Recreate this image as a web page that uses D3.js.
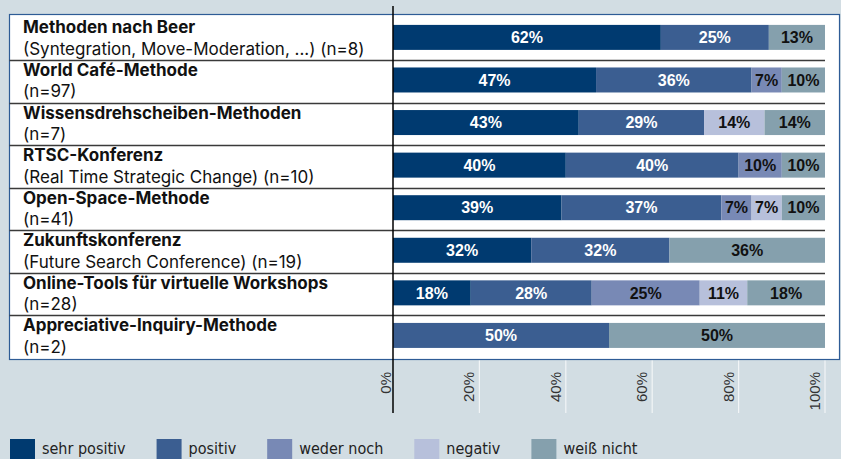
<!DOCTYPE html>
<html>
<head>
<meta charset="utf-8">
<script src="https://cdn.jsdelivr.net/npm/d3@7"></script>
<style>
  body { margin: 0; background: #d2dde3; }
  svg { display: block; }
</style>
</head>
<body>
<svg id="chart" width="841" height="459"></svg>
<script>
// Données
const methods = [
    "Methoden nach Beer",
    "World Café-Methode",
    "Wissensdrehscheiben-Methoden",
    "RTSC-Konferenz",
    "Open-Space-Methode",
    "Zukunftskonferenz",
    "Online-Tools für virtuelle Workshops",
    "Appreciative-Inquiry-Methode"
];
const subtitles = [
    "(Syntegration, Move-Moderation, ...) (n=8)",
    "(n=97)",
    "(n=7)",
    "(Real Time Strategic Change) (n=10)",
    "(n=41)",
    "(Future Search Conference) (n=19)",
    "(n=28)",
    "(n=2)"
];
const seriesNames = ["sehr positiv", "positiv", "weder noch", "negativ", "weiß nicht"];
const sehrPositiv = [62, 47, 43, 40, 39, 32, 18, 0];
const positiv     = [25, 36, 29, 40, 37, 32, 28, 50];
const wederNoch   = [0, 7, 0, 10, 7, 0, 25, 0];
const negativ     = [0, 0, 14, 0, 7, 0, 11, 0];
const weissNicht  = [13, 10, 14, 10, 10, 36, 18, 50];
const tickValues = [0, 20, 40, 60, 80, 100];

const colors = ["#003a70", "#3b5e91", "#7889b5", "#b7c0db", "#85a0ad"];
const labelColors = ["#fff", "#fff", "#111", "#111", "#111"];

// Tableau pour d3.stack
const rows = methods.map((m, i) => ({
    method: m,
    "sehr positiv": sehrPositiv[i],
    "positiv": positiv[i],
    "weder noch": wederNoch[i],
    "negativ": negativ[i],
    "weiß nicht": weissNicht[i]
}));
const stacked = d3.stack().keys(seriesNames)(rows);

const svg = d3.select("#chart");

// Panneau blanc
const panel = { x: 9.5, y: 14.5, w: 830, h: 345 };
svg.append("rect")
    .attr("x", panel.x).attr("y", panel.y)
    .attr("width", panel.w).attr("height", panel.h)
    .style("fill", "#fff")
    .style("stroke", "#2e5c96")
    .style("stroke-width", 1.2);

// Echelles
const x = d3.scaleLinear().domain([0, 100]).range([393, 825]);
const y = d3.scaleBand().domain(methods).range([17.4, 358]).paddingInner(0);
const barH = 25;
const barOffset = 7.5;

// Grille sous le panneau
svg.append("g").selectAll("line")
    .data(tickValues.filter(d => d > 0))
    .enter().append("line")
    .attr("x1", d => x(d)).attr("x2", d => x(d))
    .attr("y1", panel.y + panel.h + 1).attr("y2", 413)
    .style("stroke", "#f2f5f7")
    .style("stroke-width", 1.2);

// Séparateurs de lignes
svg.append("g").selectAll("line")
    .data(methods.slice(0, -1))
    .enter().append("line")
    .attr("x1", panel.x).attr("x2", x(100))
    .attr("y1", d => Math.round(y(d) + y.bandwidth()) + 0.5)
    .attr("y2", d => Math.round(y(d) + y.bandwidth()) + 0.5)
    .style("stroke", "#3a3a3a")
    .style("stroke-width", 1.4);

// Barres empilées
const layers = svg.append("g").selectAll("g")
    .data(stacked)
    .enter().append("g")
    .style("fill", (d, i) => colors[i]);

layers.selectAll("rect")
    .data(d => d.map(p => ({ p, key: d.key })))
    .enter().append("rect")
    .filter(d => d.p[1] - d.p[0] > 0)
    .attr("x", d => x(d.p[0]))
    .attr("y", d => y(d.p.data.method) + barOffset)
    .attr("width", d => x(d.p[1]) - x(d.p[0]))
    .attr("height", barH);

// Etiquettes des valeurs
stacked.forEach((layer, li) => {
    svg.append("g").selectAll("text")
        .data(layer.filter(p => p[1] - p[0] > 0))
        .enter().append("text")
        .attr("x", p => (x(p[0]) + x(p[1])) / 2)
        .attr("y", p => y(p.data.method) + barOffset + barH / 2)
        .attr("dy", "0.36em")
        .attr("text-anchor", "middle")
        .style("font-family", "'Liberation Sans', Arial, sans-serif")
        .style("font-weight", "bold")
        .style("font-size", "16px")
        .style("fill", labelColors[li])
        .text(p => Math.round(p[1] - p[0]) + "%");
});

// Libellés des méthodes
const labels = svg.append("g").selectAll("text")
    .data(methods)
    .enter().append("text")
    .attr("x", 23)
    .style("font-family", "Inter, 'Liberation Sans', sans-serif")
    .style("font-size", "17px")
    .style("fill", "#111");

labels.append("tspan")
    .attr("x", 23)
    .attr("y", d => y(d) + 16)
    .style("font-weight", "bold")
    .text(d => d);

labels.append("tspan")
    .attr("x", 23)
    .attr("y", d => y(d) + 37.5)
    .style("font-weight", "normal")
    .text((d, i) => subtitles[i]);

// Axe vertical
svg.append("line")
    .attr("x1", x(0)).attr("x2", x(0))
    .attr("y1", 6).attr("y2", 413)
    .style("stroke", "#000")
    .style("stroke-width", 1.5);

// Ticks (texte tourné)
svg.append("g").selectAll("text")
    .data(tickValues)
    .enter().append("text")
    .attr("transform", d => `translate(${x(d) - (d === 0 ? 2 : 5)},372) rotate(-90)`)
    .attr("text-anchor", "end")
    .style("font-family", "'Liberation Sans', Arial, sans-serif")
    .style("font-size", "15px")
    .style("fill", "#333")
    .text(d => d + "%");

// Légende
let lx = 10;
seriesNames.forEach((name, i) => {
    svg.append("rect")
        .attr("x", lx).attr("y", 439)
        .attr("width", 25).attr("height", 25)
        .style("fill", colors[i]);
    const t = svg.append("text")
        .attr("x", lx + 32).attr("y", 454)
        .style("font-family", "'DejaVu Sans Condensed', 'DejaVu Sans', sans-serif")
        .style("font-stretch", "condensed")
        .style("font-size", "16px")
        .style("fill", "#222")
        .text(name);
    lx = lx + 32 + t.node().getComputedTextLength() + 31;
});
</script>
</body>
</html>
